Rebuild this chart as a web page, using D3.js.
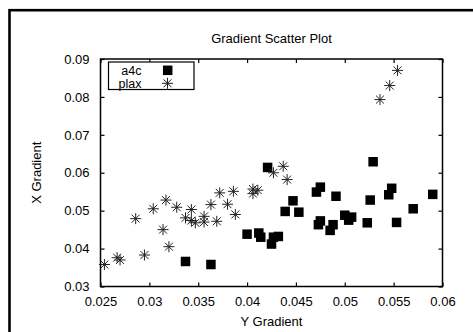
<!DOCTYPE html>
<html>
<head>
<meta charset="utf-8">
<script src="https://cdn.jsdelivr.net/npm/d3@7"></script>
<style>
  html, body { margin: 0; padding: 0; background: #fff; }
  svg { display: block; font-family: "Liberation Sans", Arial, sans-serif; }
</style>
</head>
<body>
<svg id="chart" width="473" height="332"></svg>
<script>
// a4c series: [yGradient, xGradient]
const a4c = [
  [0.0337, 0.0366], [0.0363, 0.0358], [0.0400, 0.0438], [0.0412, 0.0441],
  [0.0414, 0.0430], [0.0425, 0.0412], [0.0427, 0.0430], [0.0432, 0.0432],
  [0.0421, 0.0614], [0.0439, 0.0498], [0.0447, 0.0526], [0.0453, 0.0496],
  [0.0471, 0.0549], [0.0475, 0.0562], [0.0473, 0.0463], [0.0475, 0.0473],
  [0.0485, 0.0448], [0.0488, 0.0463], [0.0491, 0.0538], [0.0500, 0.0488],
  [0.0504, 0.0475], [0.0507, 0.0483], [0.0523, 0.0468], [0.0526, 0.0528],
  [0.0529, 0.0629], [0.0545, 0.0542], [0.0548, 0.0559], [0.0553, 0.0469],
  [0.0570, 0.0505], [0.0590, 0.0543]
]

// plax series: [yGradient, xGradient]
const plax = [
  [0.0254, 0.0358], [0.0267, 0.0376], [0.0270, 0.0370], [0.0295, 0.0383],
  [0.0286, 0.0479], [0.0304, 0.0505], [0.0314, 0.0450], [0.0317, 0.0528],
  [0.0320, 0.0405], [0.0328, 0.0509], [0.0337, 0.0481], [0.0343, 0.0503],
  [0.0343, 0.0474], [0.0347, 0.0468], [0.0356, 0.0485], [0.0356, 0.0470],
  [0.0363, 0.0516], [0.0369, 0.0472], [0.0372, 0.0547], [0.0380, 0.0517],
  [0.0386, 0.0551], [0.0388, 0.0490], [0.0406, 0.0557], [0.0411, 0.0554],
  [0.0406, 0.0545], [0.0427, 0.0600], [0.0437, 0.0617], [0.0441, 0.0582],
  [0.0536, 0.0793], [0.0546, 0.0830], [0.0554, 0.0870]
]

const xTicks = [0.025, 0.03, 0.035, 0.04, 0.045, 0.05, 0.055, 0.06]
const yTicks = [0.03, 0.04, 0.05, 0.06, 0.07, 0.08, 0.09]
const legendItems = ['a4c', 'plax']

const svg = d3.select('#chart')
const plot = { left: 100.5, top: 59, right: 442.5, bottom: 286.5 }

const x = d3.scaleLinear().domain([0.025, 0.06]).range([plot.left, plot.right])
const y = d3.scaleLinear().domain([0.03, 0.09]).range([plot.bottom, plot.top])

// Outer page frame, runs off the right and bottom edges
svg.append('rect')
  .attr('x', 9.5).attr('y', 10.2)
  .attr('width', 700).attr('height', 700)
  .attr('fill', 'none')
  .attr('stroke', '#000')
  .attr('stroke-width', 2.6)

// Title
svg.append('text')
  .attr('x', (plot.left + plot.right) / 2)
  .attr('y', 43)
  .attr('text-anchor', 'middle')
  .style('font-size', '13px')
  .text('Gradient Scatter Plot')

const tickLen = 4
const fmt = d => String(+d.toFixed(3))

// Bottom axis with labels, top axis as mirrored ticks
svg.append('g')
  .attr('transform', `translate(0,${plot.bottom})`)
  .call(d3.axisBottom(x).tickValues(xTicks).tickFormat(fmt).tickSizeInner(-tickLen).tickSizeOuter(0).tickPadding(10))
svg.append('g')
  .attr('transform', `translate(0,${plot.top})`)
  .call(d3.axisTop(x).tickValues(xTicks).tickFormat('').tickSizeInner(-tickLen).tickSizeOuter(0))

svg.append('g')
  .attr('transform', `translate(${plot.left},0)`)
  .call(d3.axisLeft(y).tickValues(yTicks).tickFormat(fmt).tickSizeInner(-tickLen).tickSizeOuter(0).tickPadding(11))
svg.append('g')
  .attr('transform', `translate(${plot.right},0)`)
  .call(d3.axisRight(y).tickValues(yTicks).tickFormat('').tickSizeInner(-tickLen).tickSizeOuter(0))

svg.selectAll('.domain').remove()
svg.selectAll('.tick line').attr('stroke', '#000').attr('stroke-width', 1.2)
svg.selectAll('.tick text')
  .attr('fill', '#000')
  .style('font-size', '13px')
  .style('font-family', '"Liberation Sans", Arial, sans-serif')

// Plot frame
svg.append('rect')
  .attr('x', plot.left).attr('y', plot.top)
  .attr('width', plot.right - plot.left)
  .attr('height', plot.bottom - plot.top)
  .attr('fill', 'none')
  .attr('stroke', '#000')
  .attr('stroke-width', 1.5)

// Axis titles
svg.append('text')
  .attr('x', (plot.left + plot.right) / 2)
  .attr('y', 326)
  .attr('text-anchor', 'middle')
  .style('font-size', '13px')
  .text('Y Gradient')

svg.append('text')
  .attr('transform', `translate(41,${(plot.top + plot.bottom) / 2}) rotate(-90)`)
  .attr('text-anchor', 'middle')
  .style('font-size', '13px')
  .text('X Gradient')

// Star marker: + and x overlaid
const starPath = r => {
  const d = r * 0.72
  return `M${-r},0H${r}M0,${-r}V${r}M${-d},${-d}L${d},${d}M${-d},${d}L${d},${-d}`
}
const sq = 9.5

const marks = svg.append('g')

marks.selectAll('rect.a4c')
  .data(a4c)
  .join('rect')
  .attr('class', 'a4c')
  .attr('x', d => x(d[0]) - sq / 2)
  .attr('y', d => y(d[1]) - sq / 2)
  .attr('width', sq).attr('height', sq)
  .attr('fill', '#000')

marks.selectAll('path.plax')
  .data(plax)
  .join('path')
  .attr('class', 'plax')
  .attr('transform', d => `translate(${x(d[0])},${y(d[1])})`)
  .attr('d', starPath(5.5))
  .attr('fill', 'none')
  .attr('stroke', '#222')
  .attr('stroke-width', 1)

// Legend
const legend = svg.append('g')
legend.append('rect')
  .attr('x', 108.5).attr('y', 62)
  .attr('width', 85.5).attr('height', 27.5)
  .attr('fill', '#fff')
  .attr('stroke', '#000')
  .attr('stroke-width', 1.2)

const rows = legend.selectAll('g.row')
  .data(legendItems)
  .join('g')
  .attr('class', 'row')
  .attr('transform', (d, i) => `translate(0,${70.3 + i * 13})`)

rows.append('text')
  .attr('x', 141.5)
  .attr('y', 4.2)
  .attr('text-anchor', 'end')
  .style('font-size', '12.5px')
  .text(d => d)

rows.filter(d => d === 'a4c').append('rect')
  .attr('x', 167.7 - sq / 2).attr('y', -sq / 2)
  .attr('width', sq).attr('height', sq)
  .attr('fill', '#000')

rows.filter(d => d === 'plax').append('path')
  .attr('transform', 'translate(167.5,0)')
  .attr('d', starPath(5.5))
  .attr('fill', 'none')
  .attr('stroke', '#222')
  .attr('stroke-width', 1)
</script>
</body>
</html>
